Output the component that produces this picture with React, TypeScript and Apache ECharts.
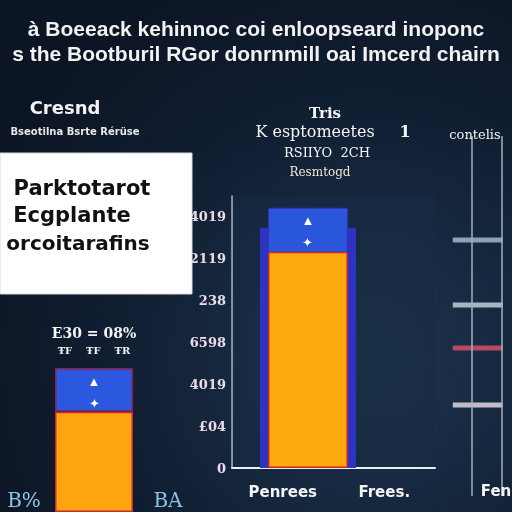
import React, { useEffect, useRef } from "react";
import * as echarts from "echarts";

// ---- data ----
const titleLines = [
  "à Boeeack kehinnoc coi enloopseard inoponc",
  "s the Bootburil RGor donrnmill oai Imcerd chairn",
];
const middleCategories = ["Penrees", "Frees."];
const middleTickLabels = ["0", "£04", "4019", "6598", "238", "2119", "4019"];
const middleBarPos = 37.4;
const middleOrange = [5.17];
const middleBlue = [1.05];
const middleBack = [5.74];
const leftOrange = [2.3];
const leftBlue = [1.0];
const rightMarkers = [2.92, 4.72, 5.92, 7.5];
const rightMarkerColors = ["#a9c0d2", "#c9d8e2", "#e0506a", "#ece2ea"];

export default function App() {
  const ref = useRef<HTMLDivElement>(null);
  useEffect(() => {
    if (!ref.current) return;
    const chart = echarts.init(ref.current, null, { renderer: "svg" });
    const txt = (
      text: string,
      x: number,
      y: number,
      size: number,
      fill = "#f2f2f2",
      weight = "bold",
      align = "center",
      family = "DejaVu Sans"
    ) => ({
      type: "text",
      z: 50,
      style: {
        text,
        x,
        y,
        fill,
        font: `${weight} ${size}px "${family}"`,
        textAlign: align,
        textVerticalAlign: "middle",
      },
    });
    const hiddenVal = { type: "value", min: 0, max: 100, show: false };
    const starLabel = {
      show: true,
      position: "insideTop",
      formatter: "▲\n✦",
      color: "#ffffff",
      fontSize: 13,
      lineHeight: 22,
      distance: 2,
    };
    chart.setOption({
      animation: false,
      backgroundColor: {
        type: "radial",
        x: 0.72,
        y: 0.7,
        r: 0.8,
        colorStops: [
          { offset: 0, color: "#1d3550" },
          { offset: 0.6, color: "#111f33" },
          { offset: 1, color: "#0c1524" },
        ],
      },
      grid: [
        {
          left: 232,
          right: 77,
          top: 196,
          bottom: 44,
          show: true,
          backgroundColor: "rgba(24,44,68,0.55)",
          borderWidth: 0,
        },
        { left: 55, width: 78, top: 368, bottom: -20 },
        { left: 455, right: 0, top: 135, height: 360 },
      ],
      xAxis: [
        {
          gridIndex: 0,
          type: "category",
          data: middleCategories,
          axisLine: { lineStyle: { color: "#e8eef4", width: 2 } },
          axisTick: { show: false },
          axisLabel: {
            color: "#f4f4f4",
            fontSize: 15,
            fontWeight: "bold",
            fontFamily: "DejaVu Sans",
            margin: 16,
            interval: 0,
          },
        },
        { gridIndex: 0, ...hiddenVal },
        { gridIndex: 1, type: "category", data: ["x"], show: false },
        { gridIndex: 2, type: "value", min: 0, max: 1, show: false },
        { gridIndex: 0, ...hiddenVal },
      ],
      yAxis: [
        {
          gridIndex: 0,
          type: "value",
          min: 0,
          max: 6.5,
          interval: 1,
          axisLine: { show: true, lineStyle: { color: "#33485e" } },
          axisTick: { show: false },
          splitLine: { show: false },
          axisLabel: {
            color: "#ecdce8",
            fontSize: 13,
            fontWeight: "bold",
            fontFamily: "DejaVu Serif",
            margin: 6,
            formatter: (v: number) => middleTickLabels[Math.round(v)] ?? "",
          },
        },
        {
          gridIndex: 0,
          type: "value",
          position: "right",
          min: 0,
          max: 6.5,
          axisLine: { show: true, lineStyle: { color: "#9fb2c2", width: 1.5 } },
          axisLabel: { show: false },
          axisTick: { show: false },
          splitLine: { show: false },
        },
        { gridIndex: 1, type: "value", min: 0, max: 3.3, show: false },
        { gridIndex: 2, type: "value", min: 0, max: 10, inverse: true, show: false },
      ],
      series: [
        {
          type: "bar",
          xAxisIndex: 4,
          yAxisIndex: 0,
          data: [[middleBarPos, middleBack[0]]],
          barWidth: 96,
          itemStyle: { color: "#2d34c4" },
          z: 1,
        },
        {
          type: "bar",
          xAxisIndex: 1,
          yAxisIndex: 0,
          data: [[middleBarPos, middleOrange[0] + middleBlue[0]]],
          barWidth: 80,
          barGap: "-100%",
          itemStyle: { color: "#2a56db", borderColor: "#3a2fae", borderWidth: 1 },
          label: starLabel,
          z: 2,
        },
        {
          type: "bar",
          xAxisIndex: 1,
          yAxisIndex: 0,
          data: [[middleBarPos, middleOrange[0]]],
          barWidth: 80,
          barGap: "-100%",
          itemStyle: { color: "#fdab0c", borderColor: "#c8252c", borderWidth: 1.5 },
          z: 3,
        },
        {
          type: "bar",
          xAxisIndex: 2,
          yAxisIndex: 2,
          stack: "l",
          data: leftOrange,
          barWidth: "100%",
          itemStyle: { color: "#fca50e", borderColor: "#c82a30", borderWidth: 1.5 },
        },
        {
          type: "bar",
          xAxisIndex: 2,
          yAxisIndex: 2,
          stack: "l",
          data: leftBlue,
          barWidth: "100%",
          itemStyle: { color: "#2b58de", borderColor: "#8a1f50", borderWidth: 1.5 },
          label: starLabel,
        },
        {
          type: "scatter",
          xAxisIndex: 3,
          yAxisIndex: 3,
          symbol: "rect",
          symbolSize: [50, 5],
          data: rightMarkers.map((v, i) => ({
            value: [0.4, v],
            itemStyle: { color: rightMarkerColors[i] },
          })),
        },
      ],
      graphic: [
        txt(titleLines[0], 256, 28, 21, "#f2f2f2", "bold", "center", "Liberation Sans"),
        txt(titleLines[1], 256, 53, 21, "#f2f2f2", "bold", "center", "Liberation Sans"),
        txt("Cresnd", 65, 107, 18),
        txt("Bseotilna Bsrte Rérüse", 75, 131, 10, "#e8e8e8"),
        {
          type: "rect",
          z: 40,
          shape: { x: 0, y: 153, width: 192, height: 141 },
          style: { fill: "#ffffff", stroke: "#d8d8d8", lineWidth: 1 },
        },
        txt("Parktotarot", 82, 188, 21, "#111111"),
        txt("Ecgplante", 72, 215, 21, "#111111"),
        txt("orcoitarafins", 78, 243, 20, "#111111"),
        txt("E30 = 08%", 94, 333, 14, "#f4f4f4", "bold", "center", "DejaVu Serif"),
        txt("ŦF    ŦF    ŦR", 94, 350, 10, "#f4f4f4", "bold", "center", "DejaVu Serif"),
        txt("B%", 24, 500, 20, "#8ac4e6", "normal", "center", "DejaVu Serif"),
        txt("BA", 168, 500, 20, "#8ac4e6", "normal", "center", "DejaVu Serif"),
        txt("Tris", 325, 113, 15, "#f4f4f4", "bold", "center", "DejaVu Serif"),
        txt("K esptomeetes", 315, 131, 16, "#f4f4f4", "normal", "center", "DejaVu Serif"),
        txt("1", 405, 131, 16, "#f4f4f4", "bold", "center", "DejaVu Serif"),
        txt("RSIIYO  2CH", 327, 152, 13, "#f4f4f4", "normal", "center", "DejaVu Serif"),
        txt("Resmtogd", 320, 172, 12, "#f0e8d8", "normal", "center", "DejaVu Serif"),
        txt("contelis", 475, 134, 13, "#f4f4f4", "normal", "center", "DejaVu Serif"),
        txt("Fen", 496, 491, 15, "#f4f4f4", "bold", "center", "DejaVu Sans"),
        {
          type: "line",
          z: 20,
          shape: { x1: 472, y1: 136, x2: 472, y2: 496 },
          style: { stroke: "#9cb0c0", lineWidth: 1.5 },
        },
        {
          type: "line",
          z: 20,
          shape: { x1: 502, y1: 136, x2: 502, y2: 496 },
          style: { stroke: "#9cb0c0", lineWidth: 1.5 },
        },
      ],
    });
    return () => chart.dispose();
  }, []);
  return (
    <div
      ref={ref}
      style={{ position: "fixed", left: 0, top: 0, width: 512, height: 512 }}
    />
  );
}
